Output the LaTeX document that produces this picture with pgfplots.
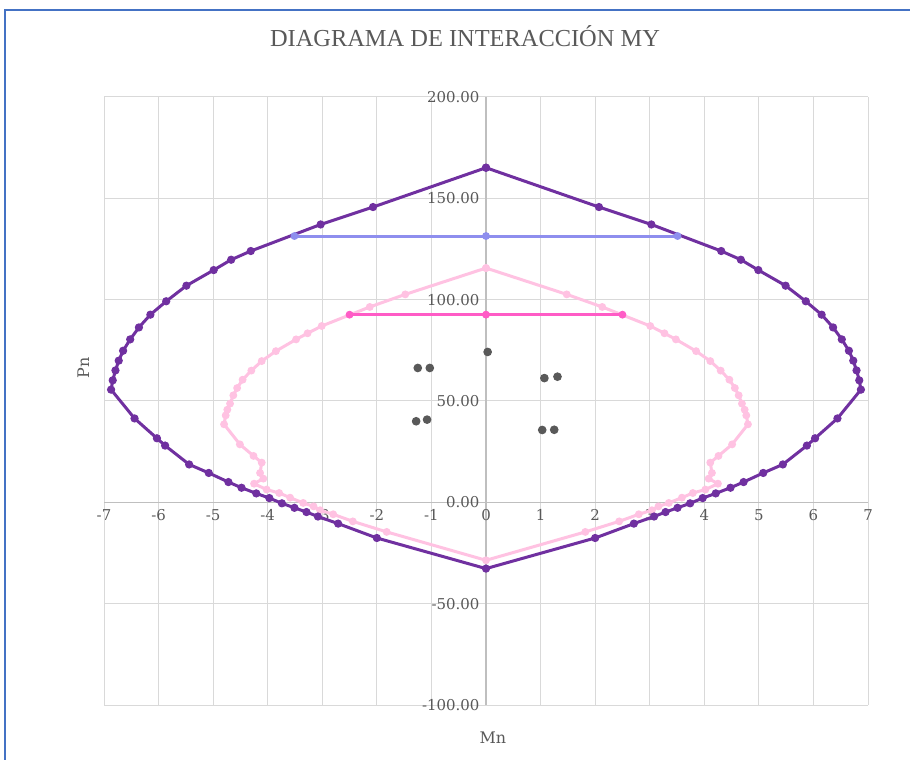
\documentclass[border=0pt]{standalone}
\usepackage{fontspec}
\setmainfont{Liberation Serif}
\newfontfamily\tickfont{DejaVu Serif}
\usepackage{pgfplots}
\pgfplotsset{compat=1.18}
\definecolor{outerc}{HTML}{7030A0}
\definecolor{innerc}{HTML}{FFC2E2}
\definecolor{bluec}{HTML}{8E8EEE}
\definecolor{magc}{HTML}{FF5CC6}
\definecolor{ptsc}{HTML}{595959}
\definecolor{gridc}{HTML}{D9D9D9}
\definecolor{axisc}{HTML}{BFBFBF}
\definecolor{txtc}{HTML}{595959}
\definecolor{framec}{HTML}{4472C4}
\begin{document}
\begin{tikzpicture}
\path[use as bounding box] (0bp,0bp) rectangle (910bp,760bp);
\fill[white] (0bp,0bp) rectangle (910bp,760bp);
\draw[framec, line width=1.2bp] (5bp,0bp) -- (5bp,750bp) -- (910bp,750bp);
\node[font=\fontsize{24.5}{28}\selectfont, text=txtc] at (465bp,724bp) {DIAGRAMA DE INTERACCIÓN MY};
\begin{axis}[
  at={(104bp,55bp)}, anchor=south west,
  scale only axis, width=764bp, height=608bp,
  xmin=-7, xmax=7, ymin=-100, ymax=200,
  axis lines=middle,
  hide obscured x ticks=false, hide obscured y ticks=false,
  axis line style={-, draw=axisc, line width=1.2bp},
  grid=major,
  grid style={gridc, line width=1bp},
  xtick={-7,-6,...,7},
  ytick={-100,-50,...,200},
  major tick length=0pt,
  /pgf/number format/assume math mode=true,
  yticklabel style={/pgf/number format/fixed, /pgf/number format/fixed zerofill, /pgf/number format/precision=2, /pgf/number format/1000 sep={}, font=\tickfont\fontsize{15}{17}\selectfont, text=txtc, xshift=-3bp},
  xticklabel style={font=\tickfont\fontsize{15}{17}\selectfont, text=txtc, yshift=-4bp},
  xlabel={Mn}, ylabel={Pn},
  xlabel style={font=\tickfont\fontsize{16}{18}\selectfont, text=txtc, at={(axis description cs:0.509,-0.053)}, anchor=center},
  ylabel style={font=\tickfont\fontsize{16}{18}\selectfont, text=txtc, at={(axis description cs:-0.027,0.554)}, anchor=center, rotate=90},
  clip=false,
]
\addplot[innerc, line width=3bp, mark=*, mark size=3.4bp, mark options={fill=innerc, draw=innerc, line width=1bp}] coordinates {
(0,115.6)(1.48,102.6)(2.13,96.4)(3.01,87.0)(3.27,83.4)(3.48,80.4)(3.85,74.6)(4.11,69.7)(4.30,65.0)(4.46,60.5)(4.56,56.4)(4.63,52.8)(4.69,48.7)(4.74,45.7)(4.77,42.9)(4.80,38.5)(4.51,28.6)(4.26,22.9)(4.11,19.6)(4.14,14.5)(4.08,11.7)(4.25,9.2)(4.02,6.3)(3.79,4.6)(3.59,2.3)(3.35,-0.3)(3.16,-2.0)(3.04,-3.9)(2.80,-5.9)(2.44,-9.4)(1.82,-14.6)(0,-28.6)
(-1.82,-14.6)(-2.44,-9.4)(-2.80,-5.9)(-3.04,-3.9)(-3.16,-2.0)(-3.35,-0.3)(-3.59,2.3)(-3.79,4.6)(-4.02,6.3)(-4.25,9.2)(-4.08,11.7)(-4.14,14.5)(-4.11,19.6)(-4.26,22.9)(-4.51,28.6)(-4.80,38.5)(-4.77,42.9)(-4.74,45.7)(-4.69,48.7)(-4.63,52.8)(-4.56,56.4)(-4.46,60.5)(-4.30,65.0)(-4.11,69.7)(-3.85,74.6)(-3.48,80.4)(-3.27,83.4)(-3.01,87.0)(-2.13,96.4)(-1.48,102.6)(0,115.6)
};
\addplot[outerc, line width=3bp, mark=*, mark size=3.6bp, mark options={fill=outerc, draw=outerc, line width=1bp}] coordinates {
(0,165.1)(2.07,145.7)(3.03,137.1)(4.31,124.0)(4.67,119.7)(4.99,114.6)(5.49,106.9)(5.86,99.2)(6.15,92.6)(6.36,86.3)(6.52,80.4)(6.65,74.8)(6.73,69.9)(6.79,65.1)(6.84,60.2)(6.87,55.6)(6.44,41.4)(6.03,31.6)(5.88,28.0)(5.44,18.7)(5.08,14.5)(4.72,10.0)(4.48,7.2)(4.21,4.4)(3.97,2.1)(3.74,-0.5)(3.51,-2.7)(3.29,-4.8)(3.08,-7.0)(2.71,-10.5)(2.0,-17.6)(0,-32.7)
(-2.0,-17.6)(-2.71,-10.5)(-3.08,-7.0)(-3.29,-4.8)(-3.51,-2.7)(-3.74,-0.5)(-3.97,2.1)(-4.21,4.4)(-4.48,7.2)(-4.72,10.0)(-5.08,14.5)(-5.44,18.7)(-5.88,28.0)(-6.03,31.6)(-6.44,41.4)(-6.87,55.6)(-6.84,60.2)(-6.79,65.1)(-6.73,69.9)(-6.65,74.8)(-6.52,80.4)(-6.36,86.3)(-6.15,92.6)(-5.86,99.2)(-5.49,106.9)(-4.99,114.6)(-4.67,119.7)(-4.31,124.0)(-3.03,137.1)(-2.07,145.7)(0,165.1)
};
\addplot[bluec, line width=3bp, mark=*, mark size=3.4bp, mark options={fill=bluec, draw=bluec, line width=1bp}] coordinates {
(-3.51,131.4)(0,131.4)(3.51,131.4)
};
\addplot[magc, line width=3bp, mark=*, mark size=3.4bp, mark options={fill=magc, draw=magc, line width=1bp}] coordinates {
(-2.50,92.6)(0,92.6)(2.50,92.6)
};
\addplot[only marks, mark=*, mark size=3.8bp, mark options={fill=ptsc, draw=ptsc, line width=1bp}] coordinates {
(0.03,74.2)(-1.25,66.3)(-1.03,66.3)(-1.28,40.0)(-1.08,40.8)(1.07,61.3)(1.31,62.0)(1.03,35.7)(1.25,35.8)
};
\end{axis}
\end{tikzpicture}
\end{document}
